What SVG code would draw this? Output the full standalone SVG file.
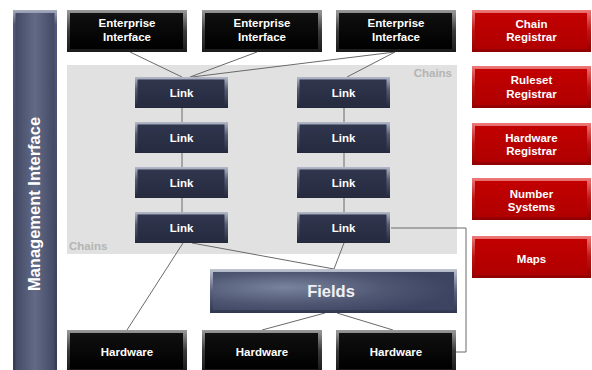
<svg xmlns="http://www.w3.org/2000/svg" xmlns:xlink="http://www.w3.org/1999/xlink" width="592" height="370" viewBox="0 0 592 370">
<defs>
<linearGradient id="gBlackEdge" x1="0" y1="0" x2="0" y2="1"><stop offset="0" stop-color="#9a9a9a"/><stop offset="0.5" stop-color="#3a3a3a"/><stop offset="1" stop-color="#1a1a1a"/></linearGradient>
<linearGradient id="gBlack" x1="0" y1="0" x2="0" y2="1"><stop offset="0" stop-color="#101010"/><stop offset="1" stop-color="#000"/></linearGradient>
<linearGradient id="gLinkEdge" x1="0" y1="0" x2="0" y2="1"><stop offset="0" stop-color="#b4bac8"/><stop offset="0.4" stop-color="#565c74"/><stop offset="1" stop-color="#22273a"/></linearGradient>
<linearGradient id="gLink" x1="0" y1="0" x2="0" y2="1"><stop offset="0" stop-color="#30364d"/><stop offset="1" stop-color="#262b40"/></linearGradient>
<linearGradient id="gRedEdge" x1="0" y1="0" x2="0" y2="1"><stop offset="0" stop-color="#ee7a7a"/><stop offset="0.5" stop-color="#bc1414"/><stop offset="1" stop-color="#900000"/></linearGradient>
<linearGradient id="gRed" x1="0" y1="0" x2="0" y2="1"><stop offset="0" stop-color="#c20000"/><stop offset="1" stop-color="#b00000"/></linearGradient>
<radialGradient id="gFields" cx="0.3" cy="0.45" r="0.7" fx="0.3" fy="0.4"><stop offset="0" stop-color="#7a839e"/><stop offset="0.6" stop-color="#4e5672"/><stop offset="1" stop-color="#3c4462"/></radialGradient>
<linearGradient id="gFieldsEdge" x1="0" y1="0" x2="0" y2="1"><stop offset="0" stop-color="#c0c5d2"/><stop offset="0.5" stop-color="#5a6280"/><stop offset="1" stop-color="#30374f"/></linearGradient>
<linearGradient id="gMgmt" x1="0" y1="0" x2="1" y2="0"><stop offset="0" stop-color="#434a65"/><stop offset="0.5" stop-color="#626a86"/><stop offset="1" stop-color="#434a65"/></linearGradient>
<linearGradient id="gMgmtEdge" x1="0" y1="0" x2="0" y2="1"><stop offset="0" stop-color="#a8aec0"/><stop offset="0.04" stop-color="#50577a"/><stop offset="1" stop-color="#363d56"/></linearGradient>
<g id="eiShape"><rect width="120" height="42" fill="url(#gBlackEdge)"/><rect x="3" y="3" width="113" height="36" fill="url(#gBlack)"/></g>
<g id="hwShape"><rect width="120" height="41" fill="url(#gBlackEdge)"/><rect x="3" y="3" width="113" height="36" fill="url(#gBlack)"/></g>
<g id="linkShape"><rect width="93" height="31" fill="url(#gLinkEdge)"/><rect x="2.5" y="2.5" width="87" height="26" fill="url(#gLink)"/></g>
<g id="redShape"><rect width="119" height="42" fill="url(#gRedEdge)"/><rect x="3" y="3" width="112" height="36" fill="url(#gRed)"/></g>
</defs>
<style>
text{font-family:"Liberation Sans",Arial,sans-serif;font-weight:bold;fill:#fff;text-anchor:middle}
.lbl{font-size:11.5px}
.chains{font-size:11.5px;fill:#b4b4b4}
.conn{stroke:#6a6a6a;stroke-width:1;fill:none}
</style>
<rect width="592" height="370" fill="#fff"/>
<g id="chains-panel">
<rect x="67" y="65" width="390" height="189" fill="#e1e1e1"/>
<text class="chains" x="452" y="77" style="text-anchor:end">Chains</text>
<text class="chains" x="69" y="250" style="text-anchor:start">Chains</text>
</g>
<g id="connectors">
<line class="conn" x1="130" y1="52" x2="182" y2="77"/>
<line class="conn" x1="257" y1="52" x2="190" y2="77"/>
<line class="conn" x1="395" y1="52" x2="192" y2="77"/>
<line class="conn" x1="395" y1="52" x2="347" y2="77"/>
<line class="conn" x1="182" y1="108" x2="182" y2="122"/>
<line class="conn" x1="182" y1="153" x2="182" y2="167"/>
<line class="conn" x1="182" y1="197" x2="182" y2="212"/>
<line class="conn" x1="344" y1="108" x2="344" y2="122"/>
<line class="conn" x1="344" y1="153" x2="344" y2="167"/>
<line class="conn" x1="344" y1="197" x2="344" y2="212"/>
<line class="conn" x1="183" y1="243" x2="127" y2="330"/>
<line class="conn" x1="192" y1="243" x2="334" y2="269"/>
<line class="conn" x1="344" y1="243" x2="334" y2="269"/>
<line class="conn" x1="325" y1="313" x2="262" y2="330"/>
<line class="conn" x1="337" y1="313" x2="393" y2="330"/>
<polyline class="conn" points="391,228 466,228 466,352 456,352"/>
</g>
<g id="management-interface">
<rect x="13" y="10" width="44" height="360" fill="url(#gMgmtEdge)"/>
<rect x="15.5" y="13" width="39" height="357" fill="url(#gMgmt)"/>
<text x="0" y="0" transform="translate(40,204) rotate(-90)" style="font-size:16.5px">Management Interface</text>
</g>
<g id="ei-1"><use xlink:href="#eiShape" x="67" y="10"/><text class="lbl" x="127" y="27">Enterprise</text><text class="lbl" x="127" y="40.5">Interface</text></g>
<g id="ei-2"><use xlink:href="#eiShape" x="202" y="10"/><text class="lbl" x="262" y="27">Enterprise</text><text class="lbl" x="262" y="40.5">Interface</text></g>
<g id="ei-3"><use xlink:href="#eiShape" x="336" y="10"/><text class="lbl" x="396" y="27">Enterprise</text><text class="lbl" x="396" y="40.5">Interface</text></g>
<g id="link-l1"><use xlink:href="#linkShape" x="135" y="77"/><text class="lbl" x="181.5" y="97">Link</text></g>
<g id="link-l2"><use xlink:href="#linkShape" x="135" y="122"/><text class="lbl" x="181.5" y="142">Link</text></g>
<g id="link-l3"><use xlink:href="#linkShape" x="135" y="167"/><text class="lbl" x="181.5" y="187">Link</text></g>
<g id="link-l4"><use xlink:href="#linkShape" x="135" y="212"/><text class="lbl" x="181.5" y="231.5">Link</text></g>
<g id="link-r1"><use xlink:href="#linkShape" x="297" y="77"/><text class="lbl" x="343.5" y="97">Link</text></g>
<g id="link-r2"><use xlink:href="#linkShape" x="297" y="122"/><text class="lbl" x="343.5" y="142">Link</text></g>
<g id="link-r3"><use xlink:href="#linkShape" x="297" y="167"/><text class="lbl" x="343.5" y="187">Link</text></g>
<g id="link-r4"><use xlink:href="#linkShape" x="297" y="212"/><text class="lbl" x="343.5" y="231.5">Link</text></g>
<g id="fields">
<rect x="210" y="269" width="247" height="44" fill="url(#gFieldsEdge)"/>
<rect x="213" y="272" width="241" height="38" fill="url(#gFields)"/>
<text x="331" y="297" style="font-size:16.5px;fill:#f0f0f4">Fields</text>
</g>
<g id="hw-1"><use xlink:href="#hwShape" x="67" y="330"/><text class="lbl" x="127" y="356">Hardware</text></g>
<g id="hw-2"><use xlink:href="#hwShape" x="202" y="330"/><text class="lbl" x="262" y="356">Hardware</text></g>
<g id="hw-3"><use xlink:href="#hwShape" x="336" y="330"/><text class="lbl" x="396" y="356">Hardware</text></g>
<g id="chain-registrar"><use xlink:href="#redShape" x="472" y="10"/><text class="lbl" x="531.5" y="28">Chain</text><text class="lbl" x="531.5" y="41">Registrar</text></g>
<g id="ruleset-registrar"><use xlink:href="#redShape" x="472" y="66"/><text class="lbl" x="531.5" y="84">Ruleset</text><text class="lbl" x="531.5" y="97.5">Registrar</text></g>
<g id="hardware-registrar"><use xlink:href="#redShape" x="472" y="123"/><text class="lbl" x="531.5" y="141.5">Hardware</text><text class="lbl" x="531.5" y="155">Registrar</text></g>
<g id="number-systems"><use xlink:href="#redShape" x="472" y="178"/><text class="lbl" x="531.5" y="198">Number</text><text class="lbl" x="531.5" y="211">Systems</text></g>
<g id="maps"><use xlink:href="#redShape" x="472" y="236"/><text class="lbl" x="531.5" y="262.5">Maps</text></g>
</svg>
